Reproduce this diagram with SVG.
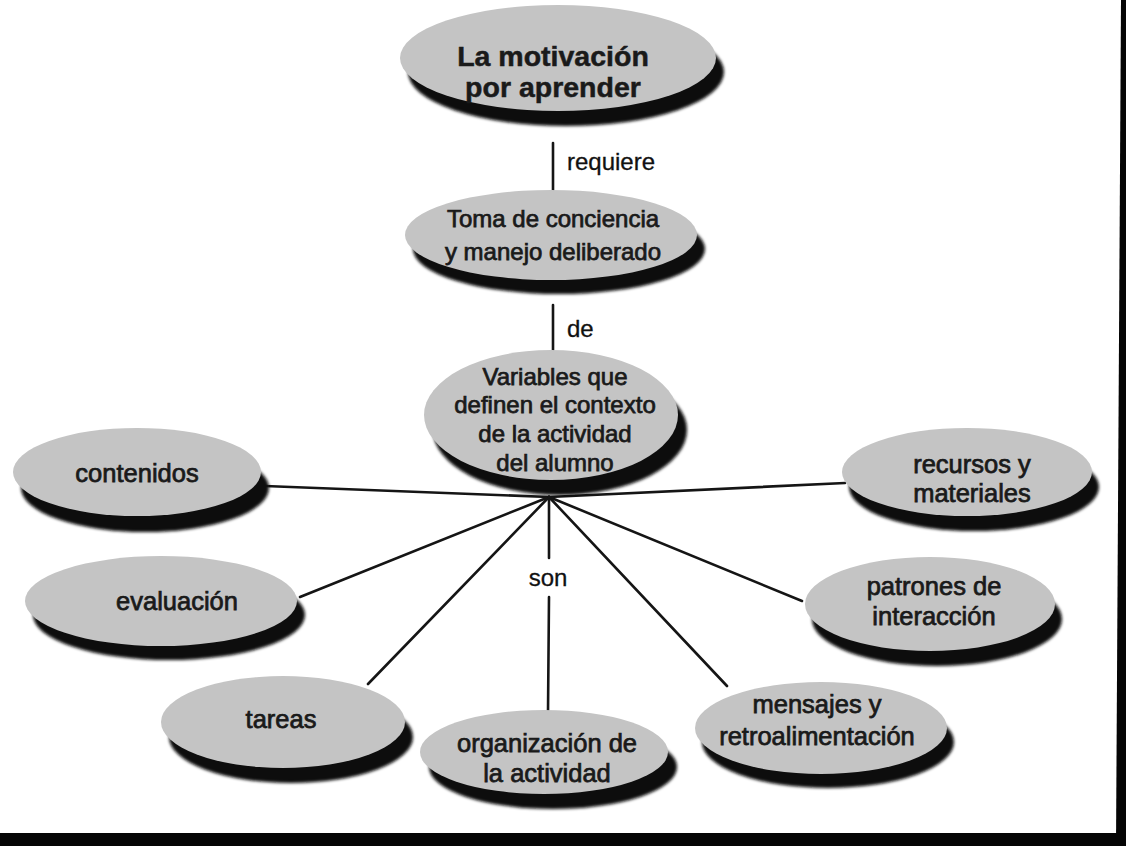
<svg xmlns="http://www.w3.org/2000/svg" width="1126" height="846" viewBox="0 0 1126 846">
  <style>
    .shadow { fill: #0d0d0d; filter: url(#soft); }
    .bubble { fill: #c4c4c4; }
    .label { font-family: "Liberation Sans", Arial, Helvetica, sans-serif; fill: #1a1a1a; stroke: #1a1a1a; stroke-width: 0.75; text-anchor: middle; }
    .title { font-weight: bold; font-size: 28.5px; stroke-width: 0.5; }
    .mid { font-size: 24px; }
    .leaf { font-size: 25.5px; }
    .link { font-family: "Liberation Sans", Arial, Helvetica, sans-serif; font-size: 24px; fill: #111; stroke: #111; stroke-width: 0.3; }
    .wire { stroke: #151515; stroke-width: 2.6; fill: none; stroke-linecap: round; }
  </style>
  <defs>
    <filter id="soft" x="-10%" y="-20%" width="120%" height="140%">
      <feGaussianBlur stdDeviation="1.6"/>
    </filter>
  </defs>

  <rect width="1126" height="846" fill="#ffffff"/>

  <!-- connectors -->
  <g id="connectors">
    <line class="wire" x1="553" y1="143" x2="553" y2="190"/>
    <text class="link" x="567" y="170">requiere</text>
    <line class="wire" x1="553" y1="305" x2="553" y2="350"/>
    <text class="link" x="567" y="337">de</text>
    <line class="wire" x1="265" y1="486" x2="549" y2="497"/>
    <line class="wire" x1="300" y1="597" x2="549" y2="497"/>
    <line class="wire" x1="368" y1="684" x2="549" y2="497"/>
    <line class="wire" x1="549" y1="497" x2="549" y2="558"/>
    <text class="link" x="548" y="586" text-anchor="middle">son</text>
    <line class="wire" x1="549" y1="597" x2="548" y2="712"/>
    <line class="wire" x1="549" y1="497" x2="727" y2="686"/>
    <line class="wire" x1="549" y1="497" x2="802" y2="601"/>
    <line class="wire" x1="549" y1="497" x2="845" y2="483"/>
  </g>

  <g id="motivacion">
    <ellipse class="shadow" cx="566" cy="72" rx="158" ry="54"/>
    <ellipse class="bubble" cx="558" cy="58" rx="158" ry="53"/>
    <text class="label title" x="553" y="66">La motivación</text>
    <text class="label title" x="553" y="97">por aprender</text>
  </g>

  <g id="toma-conciencia">
    <ellipse class="shadow" cx="559" cy="249" rx="146" ry="45"/>
    <ellipse class="bubble" cx="551" cy="235" rx="146" ry="45"/>
    <text class="label mid" x="553" y="227">Toma de conciencia</text>
    <text class="label mid" x="553" y="260">y manejo deliberado</text>
  </g>

  <g id="variables">
    <ellipse class="shadow" cx="560" cy="430" rx="127" ry="65"/>
    <ellipse class="bubble" cx="551" cy="415" rx="127" ry="65"/>
    <text class="label mid" x="555" y="385">Variables que</text>
    <text class="label mid" x="555" y="413">definen el contexto</text>
    <text class="label mid" x="555" y="442">de la actividad</text>
    <text class="label mid" x="555" y="471">del alumno</text>
  </g>

  <g id="contenidos">
    <ellipse class="shadow" cx="145" cy="488" rx="124" ry="44"/>
    <ellipse class="bubble" cx="137" cy="472" rx="124" ry="44"/>
    <text class="label leaf" x="137" y="482">contenidos</text>
  </g>

  <g id="evaluacion">
    <ellipse class="shadow" cx="169" cy="615" rx="136" ry="45"/>
    <ellipse class="bubble" cx="161" cy="601" rx="136" ry="45"/>
    <text class="label leaf" x="177" y="610">evaluación</text>
  </g>

  <g id="tareas">
    <ellipse class="shadow" cx="291" cy="737" rx="122" ry="46"/>
    <ellipse class="bubble" cx="283" cy="722" rx="122" ry="46"/>
    <text class="label leaf" x="281" y="728">tareas</text>
  </g>

  <g id="organizacion">
    <ellipse class="shadow" cx="553" cy="767" rx="124" ry="42"/>
    <ellipse class="bubble" cx="544" cy="752" rx="124" ry="42"/>
    <text class="label leaf" x="547" y="752">organización de</text>
    <text class="label leaf" x="547" y="782">la actividad</text>
  </g>

  <g id="mensajes">
    <ellipse class="shadow" cx="828" cy="742" rx="126" ry="46"/>
    <ellipse class="bubble" cx="821" cy="728" rx="126" ry="46"/>
    <text class="label leaf" x="817" y="713">mensajes y</text>
    <text class="label leaf" x="817" y="745">retroalimentación</text>
  </g>

  <g id="patrones">
    <ellipse class="shadow" cx="937" cy="619" rx="125" ry="47"/>
    <ellipse class="bubble" cx="930" cy="604" rx="125" ry="47"/>
    <text class="label leaf" x="934" y="595">patrones de</text>
    <text class="label leaf" x="934" y="625">interacción</text>
  </g>

  <g id="recursos">
    <ellipse class="shadow" cx="974" cy="487" rx="125" ry="44"/>
    <ellipse class="bubble" cx="967" cy="472" rx="125" ry="44"/>
    <text class="label leaf" x="972" y="473">recursos y</text>
    <text class="label leaf" x="972" y="502">materiales</text>
  </g>

  <!-- dark page edge along the right and bottom -->
  <polygon points="1121,0 1126,0 1126,846 1116,846" fill="#050505"/>
  <rect x="0" y="833" width="1126" height="13" fill="#050505"/>
</svg>
